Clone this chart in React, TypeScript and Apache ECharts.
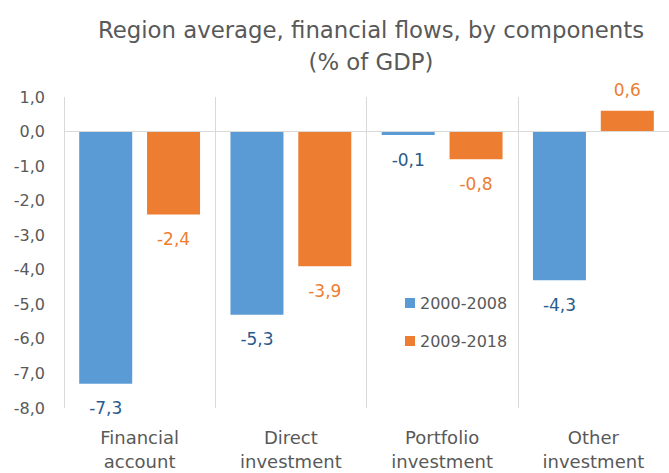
import React, { useEffect, useRef } from "react";
import * as echarts from "echarts";

const categories = ["Financial\naccount", "Direct\ninvestment", "Portfolio\ninvestment", "Other\ninvestment"];
const series2000_2008 = [-7.3, -5.3, -0.1, -4.3];
const series2009_2018 = [-2.4, -3.9, -0.8, 0.6];
const seriesNames = ["2000-2008", "2009-2018"];

const FONT = "DejaVu Sans";
const fmt = (v: number) => v.toFixed(1).replace(".", ",");

export default function App() {
  const ref = useRef<HTMLDivElement>(null);
  useEffect(() => {
    if (!ref.current) return;
    const chart = echarts.init(ref.current, undefined, { renderer: "svg" });
    const mkData = (vals: number[]) =>
      vals.map((v) => ({
        value: v,
        label: { position: v < 0 ? "bottom" : "top", distance: v < 0 ? 16 : 12 },
      }));
    chart.setOption({
      animation: false,
      textStyle: { fontFamily: FONT },
      title: {
        text: "Region average, financial flows, by components\n(% of GDP)",
        left: 366,
        textAlign: "center",
        top: 9,
        textStyle: { fontFamily: FONT, fontSize: 22.8, fontWeight: "normal", color: "#595959", lineHeight: 32 },
      },
      legend: {
        orient: "vertical",
        left: 400,
        top: 290,
        itemWidth: 10,
        itemHeight: 10,
        itemGap: 22,
        icon: "rect",
        data: seriesNames,
        textStyle: { fontFamily: FONT, fontSize: 16, color: "#595959" },
      },
      grid: { left: 64, top: 97, bottom: 63, right: -6, containLabel: false },
      xAxis: {
        type: "category",
        data: categories,
        axisLine: { show: false },
        axisTick: { show: false },
        splitLine: { show: true, lineStyle: { color: "#d9d9d9", width: 1 } },
        axisLabel: { fontFamily: FONT, fontSize: 18, color: "#595959", lineHeight: 24, margin: 17 },
      },
      yAxis: {
        type: "value",
        min: -8,
        max: 1,
        interval: 1,
        axisLine: { show: false },
        axisTick: { show: false },
        splitLine: { show: false },
        axisLabel: { fontFamily: FONT, fontSize: 16, color: "#595959", margin: 19, formatter: (v: number) => fmt(v) },
      },
      series: [
        {
          name: seriesNames[0],
          type: "bar",
          data: mkData(series2000_2008),
          barWidth: 53,
          barGap: "28%",
          itemStyle: { color: "#5b9bd5" },
          label: { show: true, fontFamily: FONT, fontSize: 17, color: "#2a5a8c", formatter: (p: any) => fmt(p.value) },
          markLine: {
            silent: true,
            symbol: "none",
            label: { show: false },
            lineStyle: { color: "#d9d9d9", type: "solid", width: 1 },
            data: [{ yAxis: 0 }],
          },
        },
        {
          name: seriesNames[1],
          type: "bar",
          data: mkData(series2009_2018),
          barWidth: 53,
          itemStyle: { color: "#ed7d31" },
          label: { show: true, fontFamily: FONT, fontSize: 17, color: "#ed7d31", formatter: (p: any) => fmt(p.value) },
        },
      ],
    });
    return () => chart.dispose();
  }, []);
  return <div ref={ref} style={{ width: 669, height: 473, position: "absolute", left: 0, top: 0 }} />;
}
